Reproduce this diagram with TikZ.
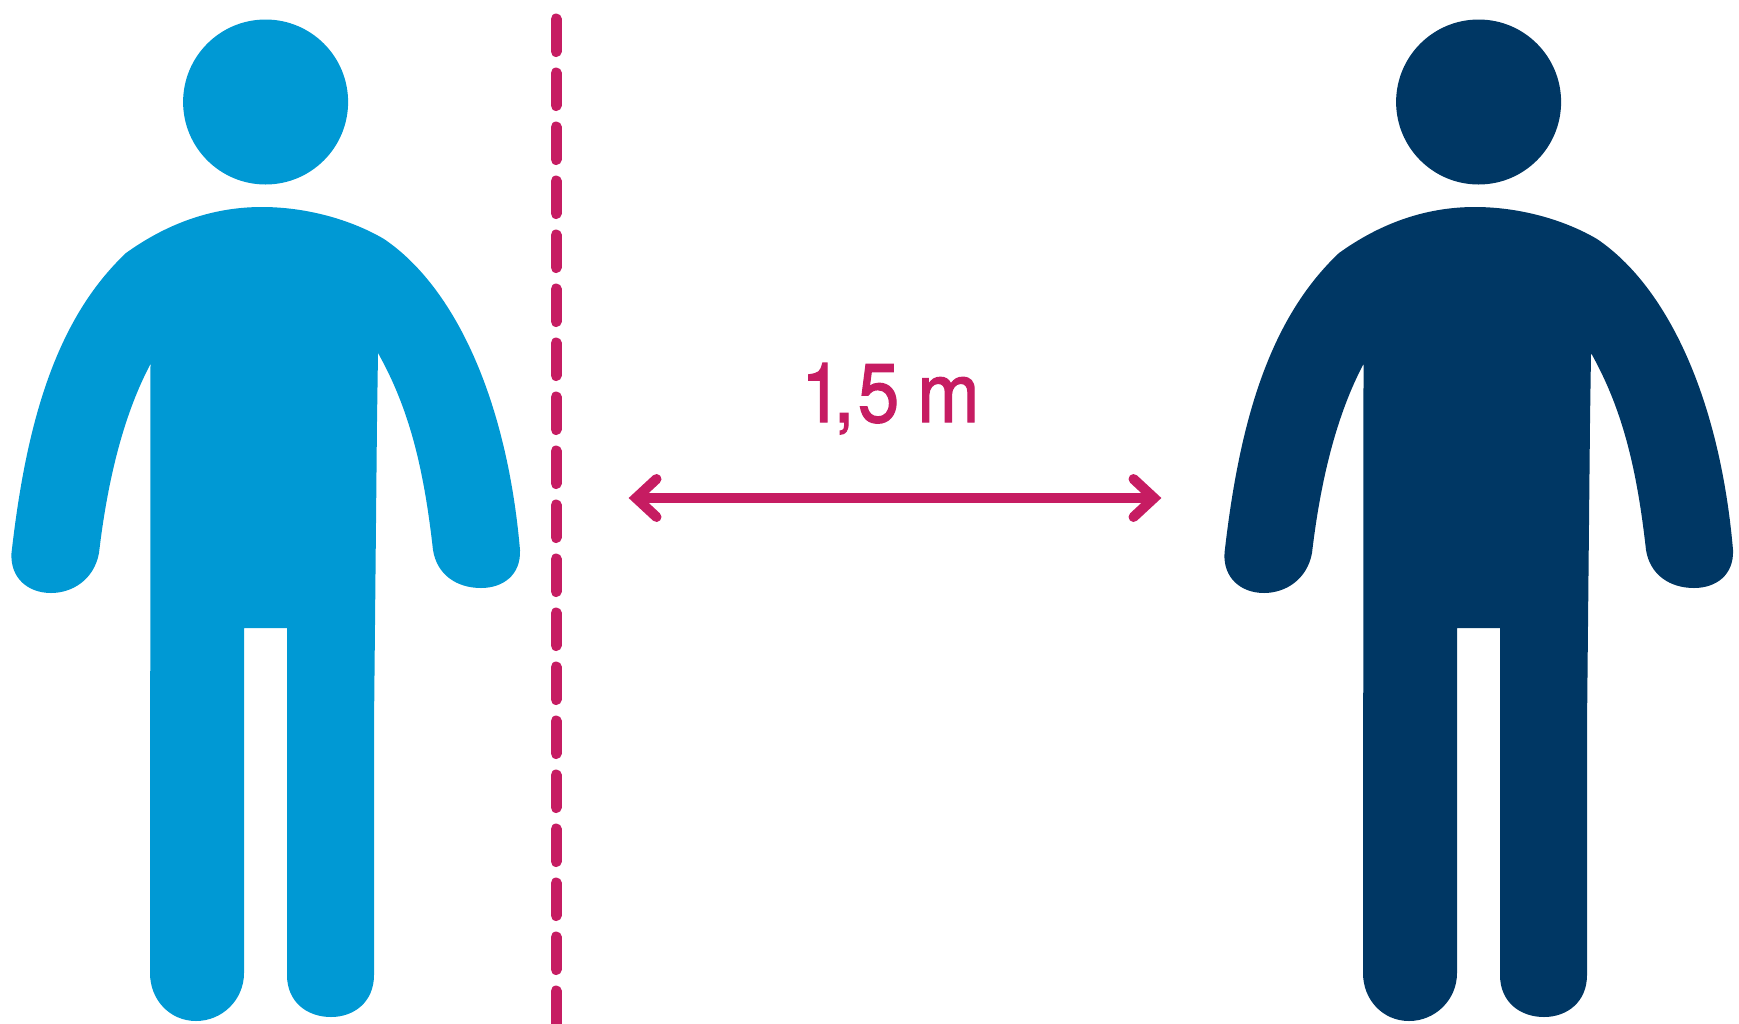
\documentclass[tikz,border=0pt]{standalone}
\usepackage{fontspec}
\setmainfont[FakeBold=1.6]{TeX Gyre Heros}
\definecolor{personA}{HTML}{0099D4}
\definecolor{personB}{HTML}{003764}
\definecolor{accent}{HTML}{C61C62}
\tikzset{
  figfill/.style={fill=#1,draw=none},
  headdisc/.style={circle,minimum size=165pt,inner sep=0pt,fill=#1,draw=none},
  barrier/.style={draw=accent,line width=11pt,line cap=round,dash pattern=on 32.5pt off 21.5pt},
  shaft/.style={draw=accent,line width=10pt},
  barb/.style={draw=accent,line width=10pt,line cap=round,line join=miter,miter limit=10},
  dimlabel/.style={text=accent,font=\fontsize{83}{83}\selectfont,inner sep=0pt,anchor=base west,xscale=0.9,transform shape}
}
\newcommand{\personshape}[1]{%
  \fill[figfill=#1] (150.5,364)
    .. controls (125,412) and (108,476) .. (99,553)
    .. controls (94,580) and (72,593) .. (51,593)
    .. controls (28,593) and (10,578) .. (11.5,553)
    .. controls (26,425) and (55,320) .. (126,253)
    .. controls (165,225) and (210,207) .. (262,207)
    .. controls (305,207) and (350,219) .. (384,239)
    .. controls (455,287) and (507,400) .. (520,550)
    .. controls (521,575) and (503,588) .. (481,588)
    .. controls (457,588) and (437,575) .. (433,550)
    .. controls (424,470) and (410,410) .. (378,353)
    -- (377,421) -- (374,726) -- (374,975)
    .. controls (374,1002) and (354,1017) .. (331,1017)
    .. controls (307,1017) and (287,1002) .. (287,975)
    -- (287,628) -- (244,628) -- (244,973)
    .. controls (244,1000) and (222,1021) .. (196,1021)
    .. controls (170,1021) and (150,1000) .. (150,973)
    -- cycle;
}
\begin{document}
\begin{tikzpicture}[x=1pt,y=-1pt]
\useasboundingbox (0,0) rectangle (1739,1023);
\clip (0,0) rectangle (1739,1023);
% left person
\begin{scope}
  \node[headdisc=personA] (headA) at (265.6,102) {};
  \personshape{personA}
\end{scope}
% right person
\begin{scope}[shift={(1213,0)}]
  \node[headdisc=personB] (headB) at (265.6,102) {};
  \personshape{personB}
\end{scope}
% barrier
\coordinate (barTop) at (556,19);
\coordinate (barEnd) at (556,1040);
\draw[barrier] (barTop) -- (barEnd);
% dimension arrow
\coordinate (tipL) at (636,498);
\coordinate (tipR) at (1154,498);
\coordinate (armL1) at (656.5,479);
\coordinate (armL2) at (656.5,517);
\coordinate (armR1) at (1133.5,479);
\coordinate (armR2) at (1133.5,517);
\draw[shaft] (tipL) -- (tipR);
\draw[barb] (armL1) -- (tipL) -- (armL2);
\draw[barb] (armR1) -- (tipR) -- (armR2);
\node[dimlabel] (dim) at (801,422) {\spaceskip=20pt\relax 1\kern-10pt,\kern3.7pt5 m};
\end{tikzpicture}
\end{document}
